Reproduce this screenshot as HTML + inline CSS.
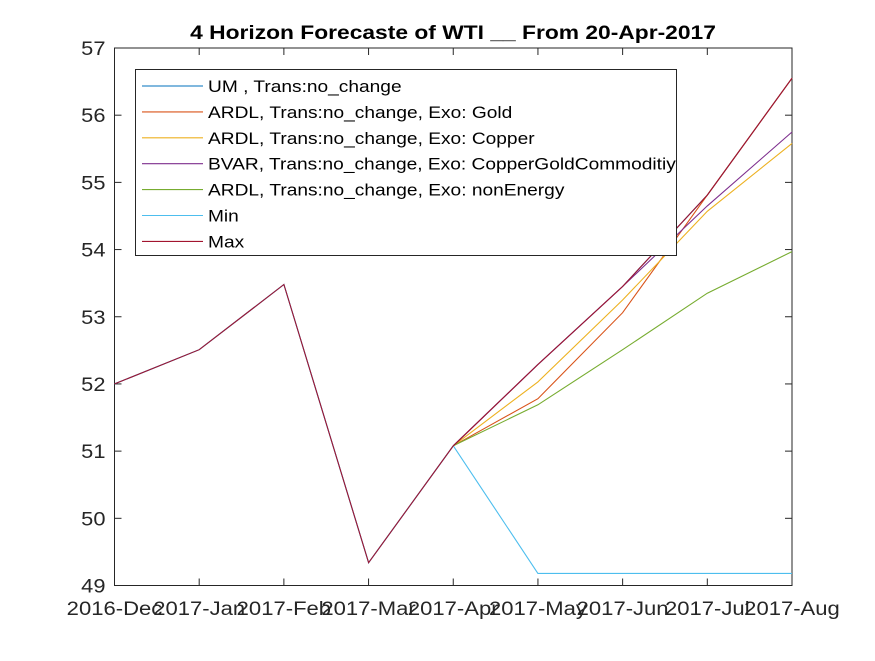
<!DOCTYPE html>
<html><head><meta charset="utf-8"><style>
html,body{margin:0;padding:0;background:#fff;}
svg text{font-family:"Liberation Sans",Arial,sans-serif;fill:#262626;}
</style></head><body>
<svg id="chart" width="875" height="656" viewBox="0 0 875 656" xmlns="http://www.w3.org/2000/svg">
<rect width="875" height="656" fill="#fff"/>
<text id="title" x="453" y="39" text-anchor="middle" font-size="19" font-weight="bold" style="fill:#000">4 Horizon Forecaste of WTI __ From 20-Apr-2017</text>
<g id="plot"></g>
</svg>
<script>
const categories=["2016-Dec","2017-Jan","2017-Feb","2017-Mar","2017-Apr","2017-May","2017-Jun","2017-Jul","2017-Aug"];
const yTicks=[49,50,51,52,53,54,55,56,57];
const umValues=[52.0,52.51,53.48,49.34,51.08,52.29,53.45,54.81,56.55];
const goldValues=[null,null,null,null,51.08,51.78,53.06,54.81,56.55];
const copperValues=[null,null,null,null,51.08,52.03,53.25,54.57,55.58];
const bvarValues=[null,null,null,null,51.08,52.29,53.45,54.65,55.75];
const nonEnergyValues=[null,null,null,null,51.08,51.69,52.51,53.35,53.97];
const minValues=[52.0,52.51,53.48,49.34,51.08,49.18,49.18,49.18,49.18];
const maxValues=[52.0,52.51,53.48,49.34,51.08,52.29,53.45,54.81,56.55];
const seriesNames=["UM , Trans:no_change","ARDL, Trans:no_change, Exo: Gold","ARDL, Trans:no_change, Exo: Copper","BVAR, Trans:no_change, Exo: CopperGoldCommoditiy","ARDL, Trans:no_change, Exo: nonEnergy","Min","Max"];
const seriesColors=["#0072BD","#D95319","#EDB120","#7E2F8E","#77AC30","#4DBEEE","#A2142F"];

const L=114.5,R=792,T=48,B=585.5;
const xs=i=>L+(R-L)*i/(categories.length-1);
const ys=v=>B-(v-49)/(57-49)*(B-T);
const NS="http://www.w3.org/2000/svg";
const g=document.getElementById('plot');
function mk(tag,attrs,parent){const e=document.createElementNS(NS,tag);for(const k in attrs)e.setAttribute(k,attrs[k]);(parent||g).appendChild(e);return e;}
function stretch(t,f){const w=t.getComputedTextLength();if(w>0){t.setAttribute('textLength',(w*f).toFixed(1));t.setAttribute('lengthAdjust','spacingAndGlyphs');}}

stretch(document.getElementById('title'),1.2);

const box=mk('rect',{x:L,y:T,width:R-L,height:B-T,fill:'none',stroke:'#262626','stroke-width':1});


yTicks.forEach(v=>{
  const y=ys(v);
  mk('line',{x1:L,x2:L+7,y1:y,y2:y,stroke:'#262626'});
  mk('line',{x1:R,x2:R-7,y1:y,y2:y,stroke:'#262626'});
  const t=mk('text',{x:L-9,y:y+7,'text-anchor':'end','font-size':19});
  t.textContent=v;
  
  
  stretch(t,1.15);
});
categories.forEach((c,i)=>{
  const x=xs(i);
  mk('line',{x1:x,x2:x,y1:B,y2:B-7,stroke:'#262626'});
  mk('line',{x1:x,x2:x,y1:T,y2:T+7,stroke:'#262626'});
  const t=mk('text',{x:x,y:615,'text-anchor':'middle','font-size':19});
  t.textContent=c;
  
  
  stretch(t,1.16);
});
const allSeries=[umValues,goldValues,copperValues,bvarValues,nonEnergyValues,minValues,maxValues];
allSeries.forEach((vals,si)=>{
  const pts=[];
  vals.forEach((v,i)=>{if(v!==null)pts.push(xs(i).toFixed(1)+','+ys(v).toFixed(1));});
  const p=mk('polyline',{points:pts.join(' '),fill:'none',stroke:seriesColors[si],'stroke-width':1.1});
  
  
});
const lg=mk('g',{});


mk('rect',{x:135.5,y:69.5,width:541,height:186,fill:'#fff',stroke:'#262626'},lg);
seriesNames.forEach((n,i)=>{
  const y=86+i*25.9;
  mk('line',{x1:142,x2:203,y1:y,y2:y,stroke:seriesColors[i],'stroke-width':1.1},lg);
  const t=mk('text',{x:208,y:y+6,'font-size':16.5,style:'fill:#000'},lg);
  t.textContent=n;
  
  
  stretch(t,1.16);
});
</script>
</body></html>
